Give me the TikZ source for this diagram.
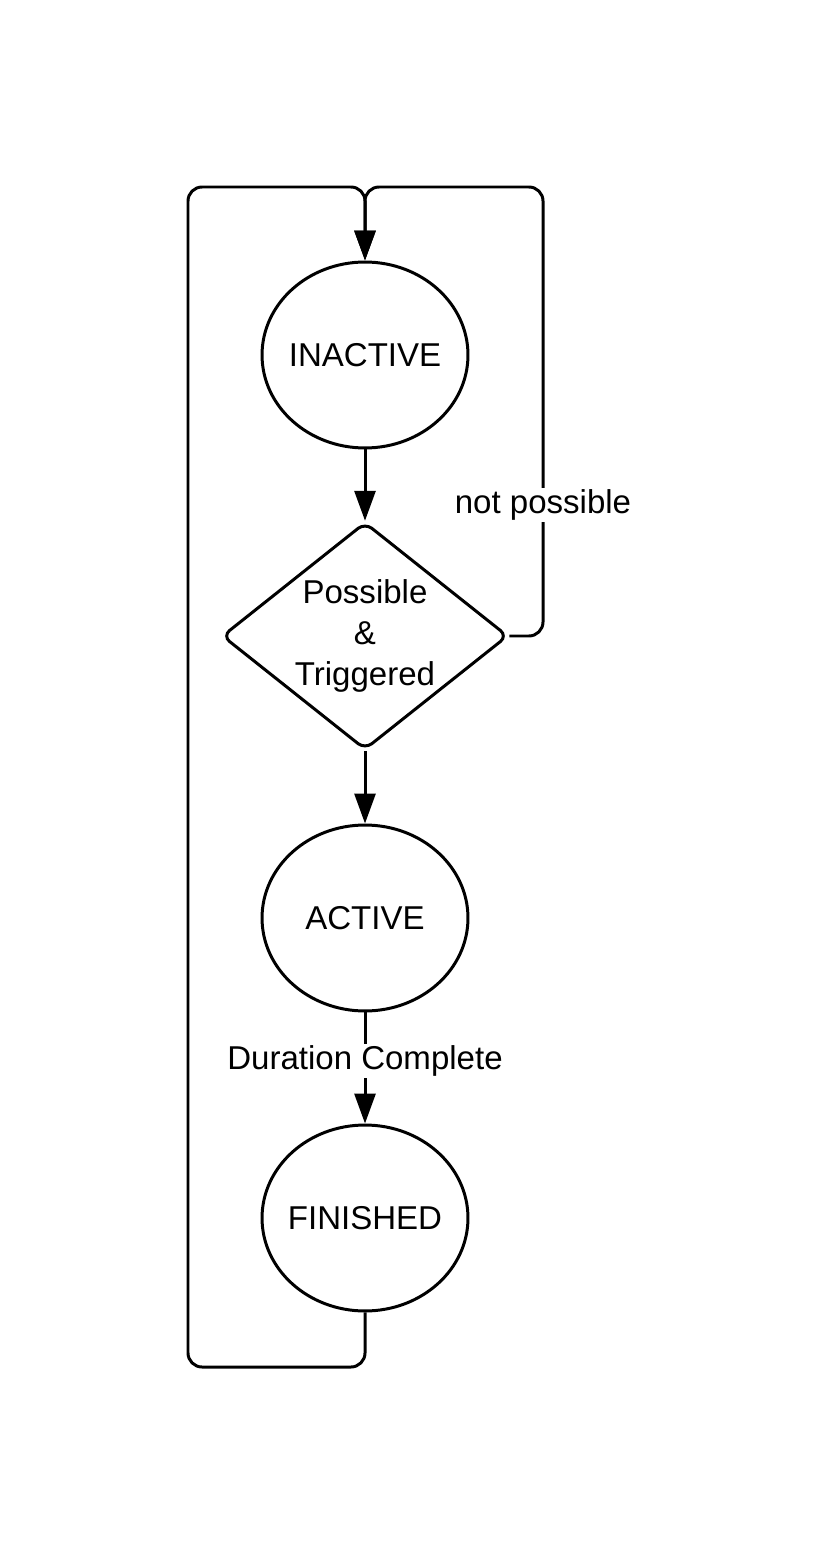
\documentclass[tikz,border=0pt]{standalone}
\usepackage{fontspec}
\setmainfont{Liberation Sans}
\usepackage{tikz}
\usetikzlibrary{shapes.geometric,arrows.meta}
\tikzset{
        ->,  % all edges directed
        >={Triangle[length=0.6cm,width=0.42cm]}, % filled triangle heads
        every node/.style={font=\fontsize{18.8}{23.3}\selectfont},
        statenode/.style={draw, ellipse, line width=1.7pt, inner sep=-0.1cm, minimum width=4.12cm, minimum height=3.72cm},
        decision/.style={draw, diamond, aspect=1.25, line width=1.7pt, rounded corners=5, inner sep=-0.05cm, minimum width=5.72cm, minimum height=4.55cm, align=center},
        edgelabel/.style={fill=white, inner sep=1pt},
}
\begin{document}
\begin{tikzpicture}[x=0.02cm,y=-0.02cm,line width=1.7pt]
\useasboundingbox (0,0) rectangle (817,1550);

\node[statenode] (inactive) at (365,355) {INACTIVE};
\node[decision] (decide) at (365,636) {Possible\\\&\\Triggered};
\node[statenode] (active) at (365,918) {ACTIVE};
\node[statenode] (finished) at (365,1218) {FINISHED};

% corners of the two loops
\coordinate (topjoin) at (365,187);
\coordinate (lefttop) at (188,187);
\coordinate (leftbot) at (188,1367);
\coordinate (botjoin) at (365,1367);
\coordinate (righttop) at (543,187);
\coordinate (rightmid) at (543,636);

\draw (inactive) -- (decide);
\draw (decide) -- (active);
\draw (active) -- (finished);
\node[edgelabel] (durlabel) at (365,1061) {Duration Complete};

\draw[rounded corners=8] (finished.south) -- (botjoin) -- (leftbot) -- (lefttop) -- (topjoin) -- (inactive.north);
\draw[rounded corners=8] (decide.east) -- (rightmid) -- (righttop) -- (topjoin) -- (inactive.north);
\node[edgelabel] (nplabel) at (543,505) {not possible};

\end{tikzpicture}
\end{document}
